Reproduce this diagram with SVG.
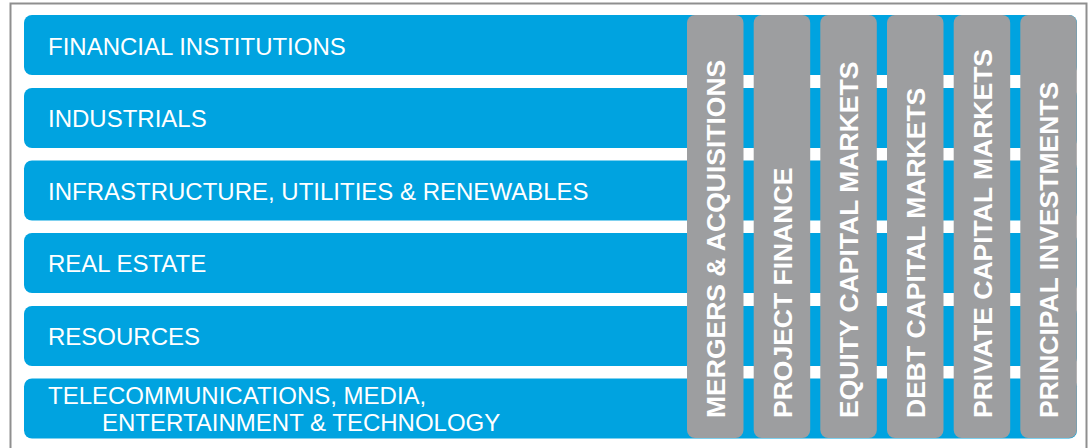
<svg xmlns="http://www.w3.org/2000/svg" width="1090" height="448" viewBox="0 0 1090 448">
<style>
.frame{fill:#ffffff;stroke:#8f8f8f;stroke-width:2}
.bar{fill:#00a3e0}
.col{fill:#9d9ea0}
.lbl{font-family:"Liberation Sans",Arial,sans-serif;font-size:24px;fill:#ffffff}
.vlbl{font-family:"Liberation Sans",Arial,sans-serif;font-size:26.5px;font-weight:bold;fill:#ffffff}
</style>
<rect class="frame" x="10.5" y="3.5" width="1076" height="470"/>
<g id="sectors">
<g id="financial-institutions"><rect class="bar" x="24" y="15" width="1053" height="60" rx="8"/><text class="lbl" x="48" y="54.5">FINANCIAL INSTITUTIONS</text></g>
<g id="industrials"><rect class="bar" x="24" y="88" width="1053" height="60" rx="8"/><text class="lbl" x="48" y="127">INDUSTRIALS</text></g>
<g id="infrastructure"><rect class="bar" x="24" y="160.5" width="1053" height="60" rx="8"/><text class="lbl" x="48" y="200">INFRASTRUCTURE, UTILITIES &amp; RENEWABLES</text></g>
<g id="real-estate"><rect class="bar" x="24" y="233" width="1053" height="60" rx="8"/><text class="lbl" x="48" y="272">REAL ESTATE</text></g>
<g id="resources"><rect class="bar" x="24" y="306" width="1053" height="60" rx="8"/><text class="lbl" x="48" y="345">RESOURCES</text></g>
<g id="tmet"><rect class="bar" x="24" y="378.5" width="1053" height="60" rx="8"/><text class="lbl" x="48" y="403.5">TELECOMMUNICATIONS, MEDIA,</text><text class="lbl" x="102" y="431">ENTERTAINMENT &amp; TECHNOLOGY</text></g>
</g>
<g id="products">
<g id="ma"><rect class="col" x="687" y="15" width="56.5" height="423" rx="8"/><text class="vlbl" transform="translate(725,418) rotate(-90)">MERGERS &amp; ACQUISITIONS</text></g>
<g id="pf"><rect class="col" x="753.7" y="15" width="56.5" height="423" rx="8"/><text class="vlbl" transform="translate(791.7,418) rotate(-90)">PROJECT FINANCE</text></g>
<g id="ecm"><rect class="col" x="820.3" y="15" width="56.5" height="423" rx="8"/><text class="vlbl" transform="translate(858.3,418) rotate(-90)">EQUITY CAPITAL MARKETS</text></g>
<g id="dcm"><rect class="col" x="887" y="15" width="56.5" height="423" rx="8"/><text class="vlbl" transform="translate(925,418) rotate(-90)">DEBT CAPITAL MARKETS</text></g>
<g id="pcm"><rect class="col" x="953.7" y="15" width="56.5" height="423" rx="8"/><text class="vlbl" transform="translate(991.7,418) rotate(-90)">PRIVATE CAPITAL MARKETS</text></g>
<g id="pi"><rect class="col" x="1020.3" y="15" width="56.5" height="423" rx="8"/><text class="vlbl" transform="translate(1058.3,418) rotate(-90)">PRINCIPAL INVESTMENTS</text></g>
</g>
<g id="connectors"/>
</svg>
